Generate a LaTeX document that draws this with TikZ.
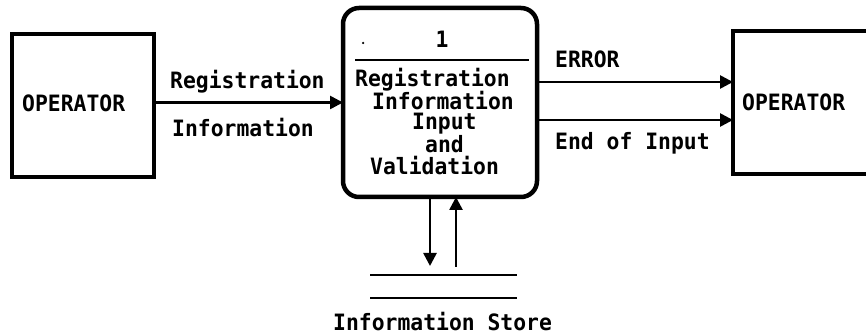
\documentclass[tikz,border=0pt]{standalone}
\usepackage{fontspec}
\newfontfamily\dfd{DejaVu Sans Mono}[FakeStretch=0.95]
\usetikzlibrary{arrows.meta}

\begin{document}
\begin{tikzpicture}[x=1pt,y=-1pt,
  box/.style={draw, line width=4.5pt, inner sep=0pt, outer sep=0pt},
  anchorbox/.style={inner sep=0pt, outer sep=0pt},
  flow/.style={line width=2.6pt, -{Triangle[length=13pt,width=13pt]}},
  rule/.style={line width=2.6pt},
  lbl/.style={anchor=base west, inner sep=0pt, font=\dfd\bfseries\fontsize{22.5}{24}\selectfont},
]
\useasboundingbox (0,0) rectangle (866,336);
\fill[white] (0,0) rectangle (866,336);

% external entity (source)
\node[box, minimum width=142pt, minimum height=143pt] (lbox) at (83,105.5) {};
% process 1
\node[box, rounded corners=16pt, minimum width=194pt, minimum height=189pt] (proc) at (440,102.5) {};
% external entity (sink), open on the right
\node[anchorbox, minimum width=137pt, minimum height=143pt] (rbox) at (801.5,102.5) {};
\draw[line width=4.5pt] (rbox.north east) -- (rbox.north west) -- (rbox.south west) -- (rbox.south east);
% data store
\node[anchorbox, minimum width=147pt, minimum height=23pt] (store) at (443.5,286.5) {};
\draw[rule] (store.north west) -- (store.north east);
\draw[rule] (store.south west) -- (store.south east);

% process number divider
\coordinate (divL) at (355,60);
\coordinate (divR) at (529,60);
\draw[rule] (divL) -- (divR);

% data flows
\coordinate (errY) at (0,82);
\coordinate (endY) at (0,120);
\coordinate (downX) at (430,0);
\coordinate (upX) at (456,0);
\draw[flow] (lbox.east |- proc.west) -- (proc.west);
\draw[flow] (proc.east |- errY) -- (rbox.west |- errY);
\draw[flow] (proc.east |- endY) -- (rbox.west |- endY);
\draw[flow, shorten >=9pt] (proc.south -| downX) -- (store.north -| downX);
\draw[flow, shorten <=8pt] (store.north -| upX) -- (proc.south -| upX);

% labels
\node[lbl] (opL) at (22,112) {OPERATOR};
\node[lbl] (regA) at (170,89) {Registration};
\node[lbl] (regB) at (172,137) {Information};
\node[lbl, anchor=base] (pnum) at (442,48) {1};
\node[circle, fill, inner sep=0pt, minimum size=2.5pt] (dot) at (363,43) {};
\node[lbl] (p1) at (355,87) {Registration};
\node[lbl] (p2) at (372,109.5) {Information};
\node[lbl] (p3) at (412,130) {Input};
\node[lbl] (p4) at (425,153) {and};
\node[lbl] (p5) at (370,175) {Validation};
\node[lbl] (err) at (555,68) {ERROR};
\node[lbl] (eoi) at (555,150) {End of Input};
\node[lbl] (opR) at (742,111) {OPERATOR};
\node[lbl] (storeL) at (333,330) {Information Store};
\end{tikzpicture}
\end{document}
